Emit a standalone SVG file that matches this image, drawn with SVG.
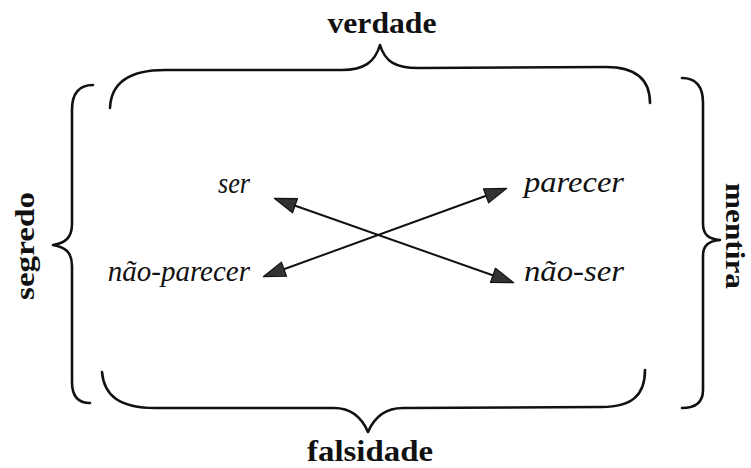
<svg xmlns="http://www.w3.org/2000/svg" width="751" height="468" viewBox="0 0 751 468">
  <style>
    .brace { fill: none; stroke: #111; stroke-width: 2.6; stroke-linecap: round; stroke-linejoin: round; }
    text { font-family: "Liberation Serif", Tinos, "Noto Serif", "DejaVu Serif", FreeSerif, Georgia, "Times New Roman", serif; fill: #111; }
    .head { font-weight: bold; font-size: 29px; text-anchor: middle; }
    .side { font-size: 27px; }
    .term { font-style: italic; font-size: 29px; }
    .link { stroke: #111; stroke-width: 2; fill: none; }
  </style>
  <defs>
    <marker id="tip" markerUnits="userSpaceOnUse" markerWidth="24" markerHeight="18" viewBox="0 0 24 18" refX="18" refY="9" orient="auto-start-reverse">
      <path d="M1,1.5 L23,9 L1,16.5 Z" fill="#333" stroke="#111" stroke-width="1.2" stroke-linejoin="round"/>
    </marker>
  </defs>
  <rect width="751" height="468" fill="#fff"/>

  <!-- braces grouping the four terms -->
  <g id="verdade">
    <path class="brace" d="M110,108 C111,84 128,70 165,70 L342,70 C364,70 375,62 380,45 C385,62 396,68 418,68 L606,67 C636,67 650,80 650,103"/>
    <text class="head" x="382" y="33" textLength="109" lengthAdjust="spacingAndGlyphs">verdade</text>
  </g>
  <g id="falsidade">
    <path class="brace" d="M102,372 C104,396 120,408 155,408 L334,408 C352,408 362,418 368,432 C374,418 385,408 403,408 L602,407 C632,407 645,395 645,370"/>
    <text class="head" x="370" y="461" textLength="126" lengthAdjust="spacingAndGlyphs">falsidade</text>
  </g>
  <g id="segredo">
    <path class="brace" d="M93,85 C78,85 72,95 72,110 L72,224 C72,238 65,243 53,245 C65,247 72,252 72,266 L72,382 C72,396 78,403 90,403"/>
    <text class="head side" transform="translate(34,246) rotate(-90)" textLength="108" lengthAdjust="spacingAndGlyphs">segredo</text>
  </g>
  <g id="mentira">
    <path class="brace" d="M682,78 C697,78 703,88 703,103 L703,224 C703,235 709,239 720,240 C709,241 703,245 703,256 L703,390 C703,402 696,408 682,408"/>
    <text class="head side" transform="translate(726,236) rotate(90)" textLength="106" lengthAdjust="spacingAndGlyphs">mentira</text>
  </g>

  <!-- the four terms -->
  <g id="ser"><text class="term" x="218" y="193" textLength="32" lengthAdjust="spacingAndGlyphs">ser</text></g>
  <g id="parecer"><text class="term" x="524" y="192" textLength="100" lengthAdjust="spacingAndGlyphs">parecer</text></g>
  <g id="nao-parecer"><text class="term" x="250" y="281" text-anchor="end">não-parecer</text></g>
  <g id="nao-ser"><text class="term" x="524" y="281" textLength="100" lengthAdjust="spacingAndGlyphs">não-ser</text></g>

  <!-- crossing double-headed arrows -->
  <g id="connectors">
    <line class="link" x1="279" y1="200" x2="509" y2="281" marker-start="url(#tip)" marker-end="url(#tip)"/>
    <line class="link" x1="268" y1="275" x2="502" y2="190" marker-start="url(#tip)" marker-end="url(#tip)"/>
  </g>
</svg>
